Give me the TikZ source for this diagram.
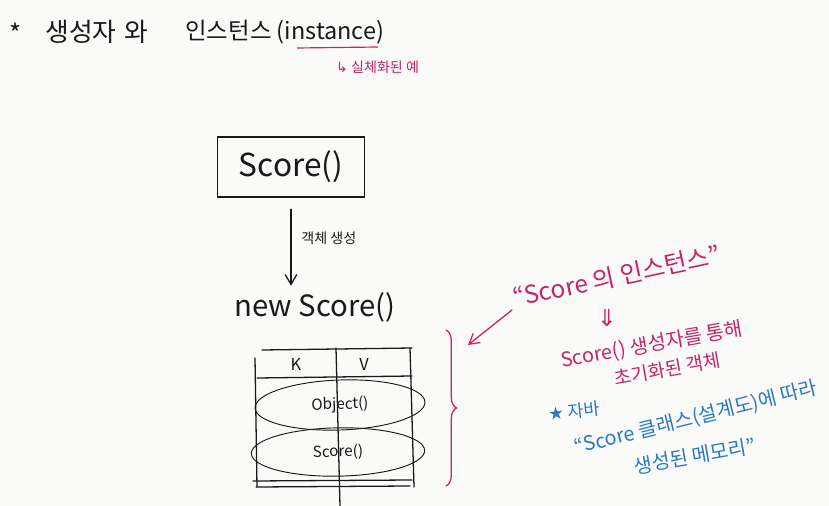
\documentclass[tikz,border=0pt]{standalone}
\usepackage{fontspec}
\setmainfont{Noto Sans CJK KR}
\newfontfamily\symfont{DejaVu Sans}
\usetikzlibrary{arrows.meta,shapes.geometric,decorations.pathreplacing}

\definecolor{paper}{RGB}{250,250,249}
\definecolor{pen}{RGB}{25,25,25}
\definecolor{pinkpen}{RGB}{200,35,105}
\definecolor{bluepen}{RGB}{45,120,195}

\tikzset{
  pen/.style={draw=pen, line width=1.1pt, line cap=round},
  penarr/.style={pen, -{Straight Barb[length=3mm,width=3.5mm]}},
  pinkarr/.style={draw=pinkpen, line width=1.1pt, line cap=round, -{Straight Barb[length=3mm,width=3.5mm]}},
  pinktxt/.style={text=pinkpen, inner sep=0pt},
  bluetxt/.style={text=bluepen, inner sep=0pt}
}

\begin{document}
\begin{tikzpicture}[
x=0.03cm, y=-0.03cm,
every node/.style={text=pen, inner sep=1pt}
]
\fill[paper] (0,0) rectangle (829,506);
\useasboundingbox (0,0) rectangle (829,506);

%---------------- Title ----------------
\node[font=\fontsize{22}{24}\selectfont] (star) at (16,33) {*};
\node[anchor=west, font=\fontsize{22}{24}\selectfont] (ctor) at (44,32) {생성자\hspace{0.3em}와};
\node[anchor=west, font=\fontsize{20}{24}\selectfont] (title) at (184,32) {인스턴스 (instance)};
\coordinate (ulA) at (297,48);
\coordinate (ulB) at (378,47);
\draw[draw=pinkpen, line width=1pt] (ulA) -- (ulB);
\node[pinktxt, anchor=west, font=\fontsize{12}{14}\selectfont] (real) at (336,67)
  {{\symfont ↳} 실체화된 예};

%---------------- Constructor ----------------
\node[pen, minimum width=4.41cm, minimum height=1.8cm, font=\fontsize{27}{30}\selectfont] (box) at (291,167) {Score()};
\node[font=\fontsize{25}{28}\selectfont] (new) at (315,307) {new Score()};
\draw[penarr, shorten <=0.35cm, shorten >=0.15cm] (box.south) -- (box.south |- new.north);
\node[anchor=west, font=\fontsize{12}{14}\selectfont] (make) at (300,238) {객체 생성};

%---------------- Memory table ----------------
\draw[pen] (262,350) -- (412,348);
\draw[pen] (257,378) -- (412,376);
\draw[pen] (255,358) -- (257,487);
\draw[pen] (336,348) -- (340,506);
\draw[pen] (410,348) -- (414,487);
\draw[pen] (253,481) -- (412,480);
\draw[pen] (256,487) -- (410,486);

\node[font=\fontsize{14}{16}\selectfont] (k) at (296,364) {K};
\node[font=\fontsize{14}{16}\selectfont] (v) at (364,364) {V};

\node[pen, line width=0.8pt, ellipse, minimum width=5.1cm, minimum height=1.5cm, rotate=2,
      font=\fontsize{13}{15}\selectfont] (obj) at (340,405) {Object()};
\node[pen, line width=0.8pt, ellipse, minimum width=5.2cm, minimum height=1.45cm, rotate=1,
      font=\fontsize{13}{15}\selectfont] (sc) at (338,452) {Score()};

\coordinate (brTop) at (446,330);
\coordinate (brBot) at (446,486);
\draw[draw=pinkpen, line width=1.1pt, decorate, decoration={brace, amplitude=9pt}] (brTop) -- (brBot);

%---------------- Notes ----------------
\node[pinktxt, rotate=12, font=\fontsize{21}{24}\selectfont] (inst) at (617,276) {“Score 의 인스턴스”};
\coordinate (instTail) at (512,310);
\coordinate (instHead) at (468,345);
\draw[pinkarr] (instTail) -- (instHead);
\node[pinktxt, font=\fontsize{20}{22}\selectfont\symfont] (down) at (607,318) {⇓};
\node[pinktxt, rotate=10, font=\fontsize{17}{20}\selectfont] (via) at (652,345) {Score() 생성자를 통해};
\node[pinktxt, rotate=10, font=\fontsize{16}{18}\selectfont] (init) at (667,369) {초기화된 객체};

\node[bluetxt, rotate=6, font=\fontsize{15}{18}\selectfont] (java) at (574,411) {{\symfont ★} 자바};
\node[bluetxt, rotate=14, font=\fontsize{17}{20}\selectfont] (cls) at (696,418) {“Score 클래스(설계도)에 따라};
\node[bluetxt, rotate=10, font=\fontsize{17}{20}\selectfont] (mem) at (695,456) {생성된 메모리”};

\end{tikzpicture}
\end{document}
